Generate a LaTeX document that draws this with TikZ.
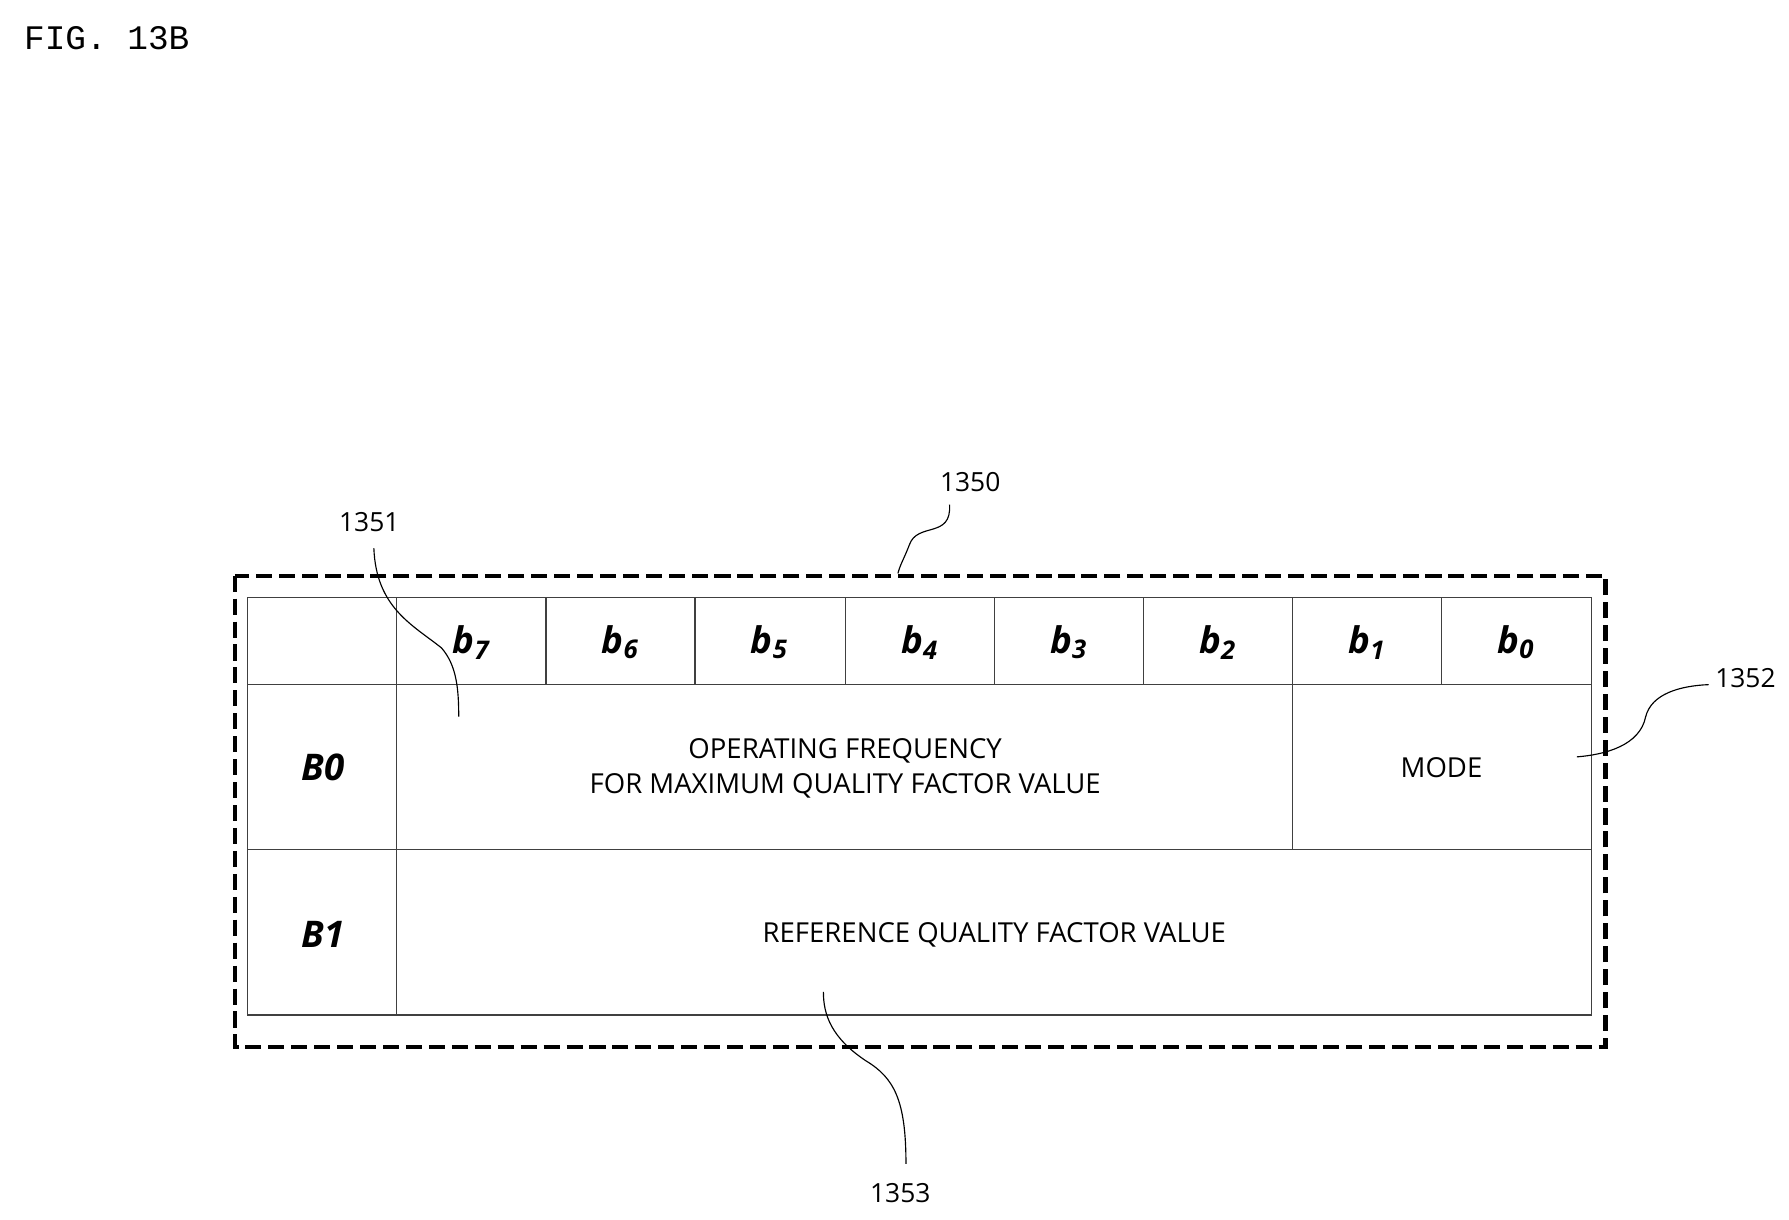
\documentclass[tikz,border=0pt]{standalone}
\usepackage{fontspec}
\setmainfont{Open Sans}
\newfontfamily\monof{Liberation Mono}
\begin{document}
\begin{tikzpicture}[x=0.5pt,y=-0.5pt,
  grid/.style={draw=black!75,line width=0.6pt},
  txt/.style={font=\fontsize{12}{15}\selectfont},
  bit/.style={font=\fontsize{16}{18}\selectfont\bfseries\itshape},
  lbl/.style={font=\fontsize{11.5}{14}\selectfont},
  lead/.style={draw=black,line width=0.5pt}]
\useasboundingbox (0,0) rectangle (1560,1063);
\node[anchor=west,font=\monof\fontsize{15}{18}\selectfont] (fig) at (14,33) {FIG. 13B};
\draw[line width=1.8pt,dash pattern=on 7pt off 3pt] (205,502) rectangle (1400,913);
\draw[grid] (216,521) rectangle (1388,885);
\draw[grid] (216,597) -- (1388,597);
\draw[grid] (216,741) -- (1388,741);
\draw[grid] (346,521) -- (346,885);
\foreach \x in {476,606,737,867,997,1257} \draw[grid] (\x,521) -- (\x,597);
\draw[grid] (1127,521) -- (1127,741);
\foreach \i/\x in {7/411,6/541,5/671,4/802,3/932,2/1062,1/1192,0/1322}
  \node[bit] (b\i) at (\x,560) {b\textsubscript{\i}};
\node[bit] (B0) at (282,669) {B0};
\node[bit] (B1) at (282,815) {B1};
\node[txt,align=center] (freq) at (737,670) {OPERATING FREQUENCY\\FOR MAXIMUM QUALITY FACTOR VALUE};
\node[txt] (mode) at (1257,669) {MODE};
\node[txt] (ref) at (867,815) {REFERENCE QUALITY FACTOR VALUE};
\node[lbl] (l1350) at (846,420) {1350};
\node[lbl] (l1351) at (322,455) {1351};
\node[lbl] (l1352) at (1522,591) {1352};
\node[lbl] (l1353) at (785,1040) {1353};
\coordinate (e1350) at (783,500);
\coordinate (e1351) at (400,625);
\coordinate (e1352) at (1375,660);
\coordinate (e1353) at (718,865);
\draw[lead] (828,440) .. controls (830,470) and (800,455) .. (793,475) .. controls (788,488) and (785,492) .. (e1350);
\draw[lead] (326,478) .. controls (328,530) and (360,545) .. (385,565) .. controls (398,580) and (400,600) .. (e1351);
\draw[lead] (1490,597) .. controls (1465,598) and (1440,605) .. (1435,625) .. controls (1430,650) and (1400,658) .. (e1352);
\draw[lead] (790,1015) .. controls (790,960) and (780,940) .. (755,925) .. controls (725,905) and (718,885) .. (e1353);
\end{tikzpicture}
\end{document}
